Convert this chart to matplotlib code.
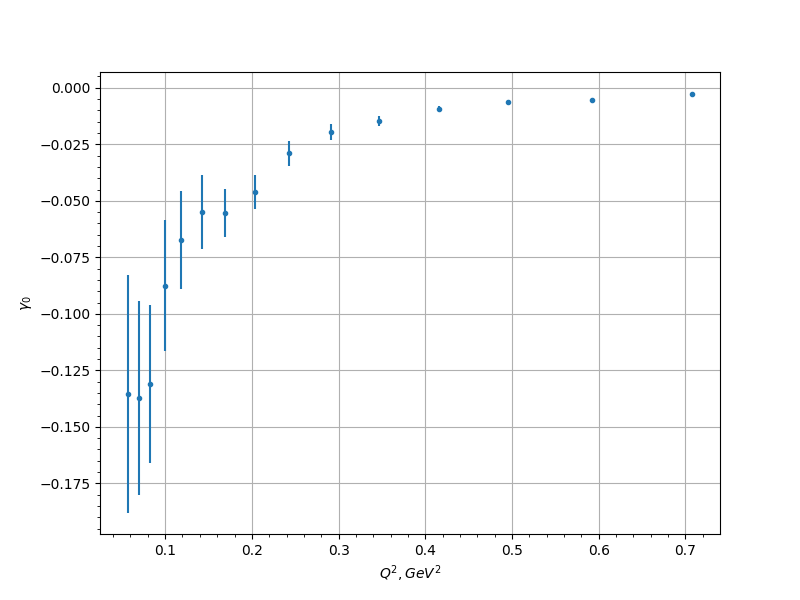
import matplotlib
matplotlib.use("Agg")
import matplotlib.pyplot as plt

q2 = [0.0574, 0.0693, 0.0827, 0.1004, 0.1184, 0.1430, 0.1695, 0.2037,
      0.2432, 0.2915, 0.3468, 0.4156, 0.4954, 0.5921, 0.7073]
gamma0 = [-0.1354, -0.1371, -0.1310, -0.0875, -0.0673, -0.0549, -0.0554, -0.0461,
          -0.0289, -0.0196, -0.0147, -0.0094, -0.0063, -0.0054, -0.0028]
err = [0.0527, 0.0429, 0.0351, 0.0289, 0.0216, 0.0163, 0.0105, 0.0077,
       0.0055, 0.0035, 0.0021, 0.0015, 0.0008, 0.0006, 0.0005]

fig, ax = plt.subplots(figsize=(8, 6), dpi=100)
ax.errorbar(q2, gamma0, yerr=err, fmt='.')
ax.set_xlabel('$Q^2, GeV^2$')
ax.set_ylabel(r'$\gamma_0$')
ax.minorticks_on()
ax.grid(True, which='major')
fig.savefig('out.png')
